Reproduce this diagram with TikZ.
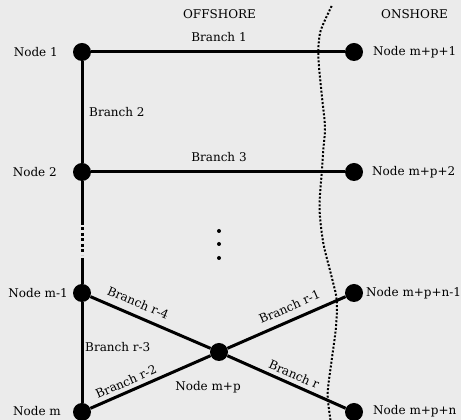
\documentclass[tikz,border=0pt]{standalone}
\usepackage{fontspec}
\setmainfont{DejaVu Serif}
\definecolor{bgc}{RGB}{235,235,235}
\begin{document}
\begin{tikzpicture}[x=1pt,y=1pt,
  bus/.style={circle,fill=black,inner sep=0pt,minimum size=18pt},
  wire/.style={line width=3pt},
  lbl/.style={font=\fontsize{12}{14}\selectfont, inner sep=0pt},
  dot/.style={circle,fill=black,inner sep=0pt,minimum size=4pt},
  shore/.style={line width=2pt, dash pattern=on 2pt off 1.8pt}
]
\fill[bgc] (0,0) rectangle (461,420);
\useasboundingbox (0,0) rectangle (461,420);

% boundary
\draw[shore] plot[smooth] coordinates {(331.7,414) (325,400) (320,387) (318.3,370) (319,353) (322.3,320) (325,293) (323.3,270) (321.7,247) (319.5,212) (323.3,177) (331.7,143) (336.7,120) (336,93) (331.7,60) (327.7,27) (330,3) (331,-2)};

% buses
\node[bus] (n1) at (82,368) {};
\node[bus] (r1) at (354,368) {};
\node[bus] (n2) at (82,248) {};
\node[bus] (r2) at (354,248) {};
\node[bus] (nm1) at (82,127) {};
\node[bus] (nm) at (82,8) {};
\node[bus] (nmp) at (219,68) {};
\node[bus] (rn1) at (354,127) {};
\node[bus] (rn) at (354,8) {};

% branches
\draw[wire] (n1) -- (r1);
\draw[wire] (n2) -- (r2);
\draw[wire] (n1) -- (n2);
\coordinate (d1) at (82,198);
\coordinate (d2) at (82,165);
\coordinate (d3) at (82,162);
\draw[wire] (n2) -- (d1);
\draw[wire, dash pattern=on 3pt off 2.5pt] (d1) -- (d2);
\draw[wire] (d3) -- (nm1);
\draw[wire] (nm1) -- (nm);
\draw[wire] (nm1) -- node[lbl, sloped, above=7pt, pos=0.354] (br4) {Branch r-4} (nmp);
\draw[wire] (nm) -- node[lbl, sloped, above=4pt, pos=0.33] (br2) {Branch r-2} (nmp);
\draw[wire] (nmp) -- node[lbl, sloped, above=7pt, pos=0.57] (br1) {Branch r-1} (rn1);
\draw[wire] (nmp) -- node[lbl, sloped, above=4pt, pos=0.53] (brr) {Branch r} (rn);

% vertical dots
\node[dot] (v1) at (219,189) {};
\node[dot] (v2) at (219,176) {};
\node[dot] (v3) at (219,162) {};

% labels
\node[lbl] (off) at (219.5,406) {OFFSHORE};
\node[lbl] (on) at (414.5,406) {ONSHORE};
\node[lbl] (b1) at (219,383) {Branch 1};
\node[lbl] (b3) at (219,263) {Branch 3};
\node[lbl, anchor=west] (b2) at (89,308) {Branch 2};
\node[lbl, anchor=west] (br3) at (85,73) {Branch r-3};

\node[lbl, anchor=east] (l1) at (58,368) {Node 1};
\node[lbl, anchor=east] (l2) at (57,248) {Node 2};
\node[lbl, anchor=east] (lm1) at (68,127) {Node m-1};
\node[lbl, anchor=east] (lm) at (61,9) {Node m};
\node[lbl] (lmp) at (208,33) {Node m+p};
\node[lbl, anchor=west] (lr1) at (373,368) {Node m+p+1};
\node[lbl, anchor=west] (lr2) at (372,248) {Node m+p+2};
\node[lbl, anchor=west] (lrn1) at (366,127) {Node m+p+n-1};
\node[lbl, anchor=west] (lrn) at (373,9) {Node m+p+n};
\end{tikzpicture}
\end{document}
